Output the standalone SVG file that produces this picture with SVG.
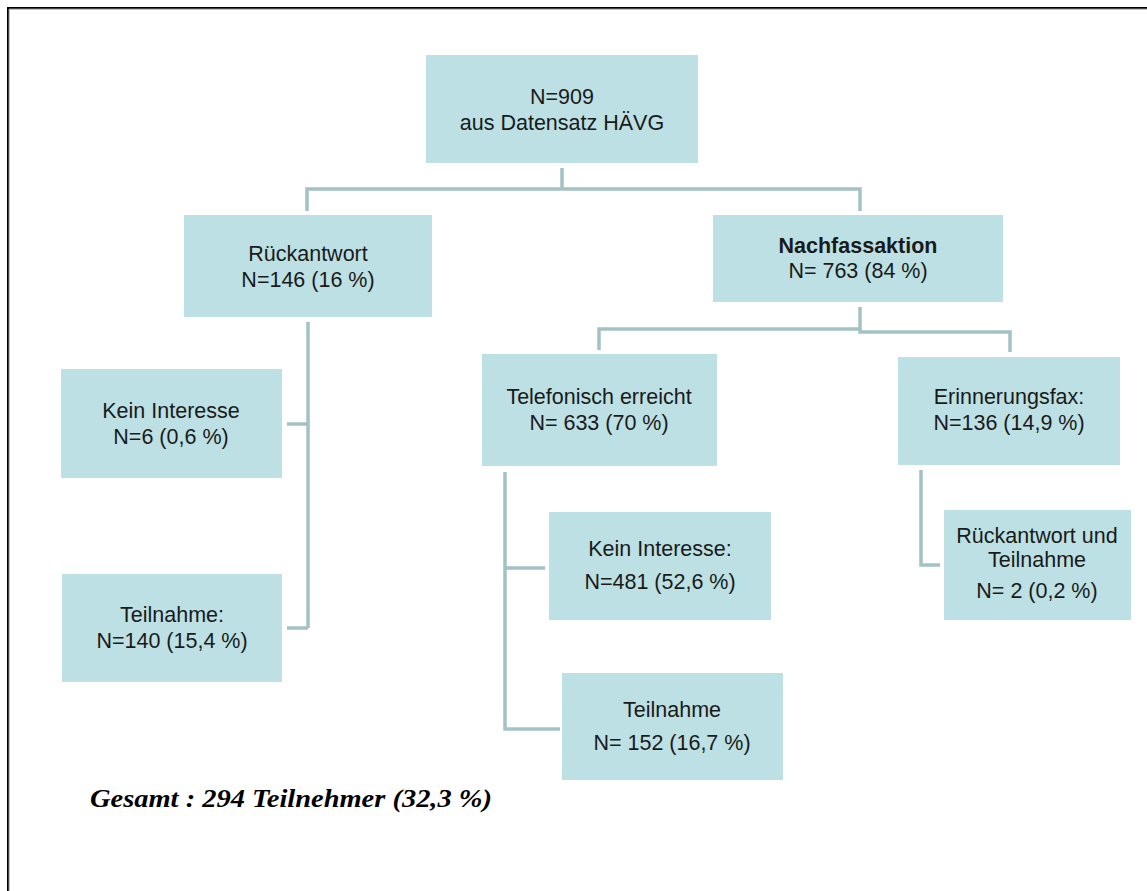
<svg xmlns="http://www.w3.org/2000/svg" width="1147" height="891" viewBox="0 0 1147 891">
<style>
.box{fill:#bce0e3}
.t{font-family:"Liberation Sans",Arial,sans-serif;font-size:21.5px;fill:#1a1a1a;text-anchor:middle}
.c{fill:none;stroke:#a3c2c4;stroke-width:3.5}
</style>
<rect x="0" y="0" width="1147" height="891" fill="#fff"/>
<path d="M8 891 V8 H1147" fill="none" stroke="#000" stroke-width="2"/>
<path d="M9 891 V9 H1147" fill="none" stroke="#888" stroke-width="1"/>
<g id="connectors">
<path class="c" d="M562 168 V189 M307 211 V189 H860 V211"/>
<path class="c" d="M308 322 V628 M287 424 H308 M287 628 H308"/>
<path class="c" d="M860 307 V329 H599 V350 M860 329 V332 H1010 V352"/>
<path class="c" d="M505 472 V729 H560 M505 568 H545"/>
<path class="c" d="M921 470 V565 H940"/>
</g>
<g id="n-root"><rect class="box" x="426" y="55" width="272" height="108"/><text class="t" x="562" y="104">N=909</text><text class="t" x="562" y="130">aus Datensatz HÄVG</text></g>
<g id="n-rueck"><rect class="box" x="184" y="215" width="248" height="102"/><text class="t" x="308" y="261">Rückantwort</text><text class="t" x="308" y="287">N=146 (16 %)</text></g>
<g id="n-nach"><rect class="box" x="713" y="215" width="290" height="87"/><text class="t" x="858" y="253" font-weight="bold">Nachfassaktion</text><text class="t" x="858" y="278">N= 763 (84 %)</text></g>
<g id="n-kein1"><rect class="box" x="61" y="369" width="221" height="109"/><text class="t" x="171" y="418">Kein Interesse</text><text class="t" x="171" y="444">N=6 (0,6 %)</text></g>
<g id="n-teil1"><rect class="box" x="62" y="574" width="220" height="108"/><text class="t" x="172" y="622">Teilnahme:</text><text class="t" x="172" y="648">N=140 (15,4 %)</text></g>
<g id="n-tel"><rect class="box" x="482" y="354" width="235" height="112"/><text class="t" x="599" y="404">Telefonisch erreicht</text><text class="t" x="599" y="430">N= 633 (70 %)</text></g>
<g id="n-fax"><rect class="box" x="898" y="357" width="222" height="108"/><text class="t" x="1009" y="404">Erinnerungsfax:</text><text class="t" x="1009" y="430">N=136 (14,9 %)</text></g>
<g id="n-kein2"><rect class="box" x="549" y="512" width="222" height="108"/><text class="t" x="660" y="556">Kein Interesse:</text><text class="t" x="660" y="589">N=481 (52,6 %)</text></g>
<g id="n-teil2"><rect class="box" x="562" y="673" width="221" height="107"/><text class="t" x="672" y="717">Teilnahme</text><text class="t" x="672" y="750">N= 152 (16,7 %)</text></g>
<g id="n-rt"><rect class="box" x="944" y="510" width="187" height="110"/><text class="t" x="1037" y="543">Rückantwort und</text><text class="t" x="1037" y="567">Teilnahme</text><text class="t" x="1037" y="598">N= 2 (0,2 %)</text></g>
<text x="90" y="807" font-family="'Liberation Serif','Times New Roman',serif" font-size="26" font-weight="bold" font-style="italic" fill="#000" textLength="402" lengthAdjust="spacingAndGlyphs">Gesamt : 294 Teilnehmer (32,3 %)</text>
</svg>
